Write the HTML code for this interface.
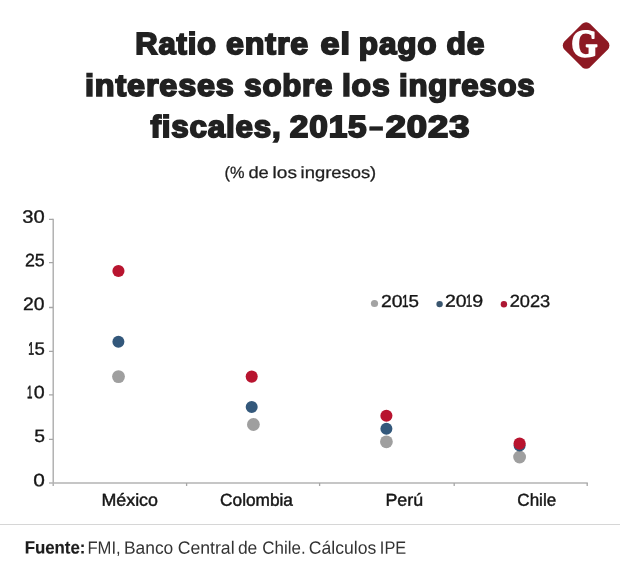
<!DOCTYPE html>
<html lang="es">
<head>
<meta charset="utf-8">
<title>Ratio entre el pago de intereses sobre los ingresos fiscales, 2015-2023</title>
<style>
html,body{margin:0;padding:0;background:#fff;}
body{width:620px;height:579px;position:relative;overflow:hidden;font-family:"Liberation Sans",sans-serif;}
h1,p,footer,div{margin:0;padding:0;font-size:inherit;font-weight:normal;}
.t{position:absolute;left:0;top:0;white-space:nowrap;line-height:1;transform-origin:0 0;display:block;}
svg{position:absolute;left:0;top:0;}
</style>
</head>
<body>
<svg width="620" height="579" viewBox="0 0 620 579">
<g fill="none" stroke="#a6a6a6" stroke-width="1.3">
<path d="M53.2 218.8V486"/>
<path d="M49 483H587.8" stroke="#b3b3b3"/>
<path d="M49 219.4H53M49 262.7H53M49 307.5H53M49 351.3H53M49 394.8H53M49 439.3H53"/>
<path d="M186.6 483V486M319.6 483V486M454.2 483V486M587.2 483V486"/>
</g>
<g>
<circle cx="118.5" cy="376.6" r="6.4" fill="#9f9f9f"/>
<circle cx="118.4" cy="341.8" r="6" fill="#33587b"/>
<circle cx="118.45" cy="270.95" r="6.05" fill="#b8142f"/>
<circle cx="253.4" cy="424.5" r="6.4" fill="#9f9f9f"/>
<circle cx="251.7" cy="407" r="6" fill="#33587b"/>
<circle cx="251.7" cy="376.6" r="6.05" fill="#b8142f"/>
<circle cx="386.4" cy="441.8" r="6.4" fill="#9f9f9f"/>
<circle cx="386.4" cy="428.7" r="6" fill="#33587b"/>
<circle cx="386.4" cy="415.7" r="6.05" fill="#b8142f"/>
<circle cx="519.6" cy="457" r="6.4" fill="#9f9f9f"/>
<circle cx="519.6" cy="445.6" r="6" fill="#33587b"/>
<circle cx="519.6" cy="443.6" r="6.05" fill="#b8142f"/>
<circle cx="374.5" cy="303.5" r="3.6" fill="#a3a3a3"/>
<circle cx="439.6" cy="304.1" r="3.2" fill="#3a566f"/>
<circle cx="503.9" cy="304.3" r="3.2" fill="#ad1733"/>
</g>
<path d="M0 524.45H620" stroke="#d6d6d6" stroke-width="1.1" fill="none"/>
</svg>
<svg width="620" height="579" viewBox="0 0 620 579">
<rect x="568" y="27.4" width="36.2" height="36.2" rx="5.5" fill="#8d1923" transform="rotate(45 586.1 45.5)"/>
<text transform="translate(571.3 56.6) scale(0.87 1) rotate(0.03)" font-family="Liberation Serif, serif" font-weight="bold" font-size="39.0" fill="#fff" stroke="#fff" stroke-width="1.6" stroke-linejoin="round">G</text>
</svg>
<h1>
<span class="t" style="font-size:30.6px;transform:translate(135.29px,28.02px) scaleX(1.0138) rotate(0.03deg);color:#212121;font-weight:bold;-webkit-text-stroke:1.8px #212121;letter-spacing:0.8px;">Ratio</span>
<span class="t" style="font-size:30.6px;transform:translate(226.11px,28.02px) scaleX(1.0516) rotate(0.03deg);color:#212121;font-weight:bold;-webkit-text-stroke:1.8px #212121;letter-spacing:0.8px;">entre</span>
<span class="t" style="font-size:30.6px;transform:translate(320.6px,28.02px) scaleX(1.1139) rotate(0.03deg);color:#212121;font-weight:bold;-webkit-text-stroke:1.8px #212121;letter-spacing:0.8px;">el</span>
<span class="t" style="font-size:30.6px;transform:translate(358.85px,28.02px) scaleX(1.0306) rotate(0.03deg);color:#212121;font-weight:bold;-webkit-text-stroke:1.8px #212121;letter-spacing:0.8px;">pago</span>
<span class="t" style="font-size:30.6px;transform:translate(446.61px,28.02px) scaleX(1.0374) rotate(0.03deg);color:#212121;font-weight:bold;-webkit-text-stroke:1.8px #212121;letter-spacing:0.8px;">de</span>
<span class="t" style="font-size:30.6px;transform:translate(85.05px,69.66px) scaleX(1.0570) rotate(0.03deg);color:#212121;font-weight:bold;-webkit-text-stroke:1.8px #212121;letter-spacing:0.8px;">intereses</span>
<span class="t" style="font-size:30.6px;transform:translate(244.32px,69.66px) scaleX(1.0180) rotate(0.03deg);color:#212121;font-weight:bold;-webkit-text-stroke:1.8px #212121;letter-spacing:0.8px;">sobre</span>
<span class="t" style="font-size:30.6px;transform:translate(341.93px,69.66px) scaleX(1.0410) rotate(0.03deg);color:#212121;font-weight:bold;-webkit-text-stroke:1.8px #212121;letter-spacing:0.8px;">los</span>
<span class="t" style="font-size:30.6px;transform:translate(399.06px,69.66px) scaleX(1.0187) rotate(0.03deg);color:#212121;font-weight:bold;-webkit-text-stroke:1.8px #212121;letter-spacing:0.8px;">ingresos</span>
<span class="t" style="font-size:30.6px;transform:translate(150.39px,111.04px) scaleX(1.0240) rotate(0.03deg);color:#212121;font-weight:bold;-webkit-text-stroke:1.8px #212121;letter-spacing:0.8px;">fiscales,</span>
<span class="t" style="font-size:30.6px;transform:translate(289.86px,111.04px) scaleX(1.0899) rotate(0.03deg);color:#212121;font-weight:bold;-webkit-text-stroke:1.8px #212121;letter-spacing:0.8px;">2015</span><span class="t" style="font-size:30.6px;transform:translate(367.81px,110.4px) scaleX(1.6733) rotate(0.03deg);color:#212121;font-weight:bold;-webkit-text-stroke:0.3px #212121;letter-spacing:0.8px;">-</span><span class="t" style="font-size:30.6px;transform:translate(385.65px,111.04px) scaleX(1.1882) rotate(0.03deg);color:#212121;font-weight:bold;-webkit-text-stroke:1.8px #212121;letter-spacing:0.8px;">2023</span>
</h1>
<p>
<span class="t" style="font-size:16.3px;transform:translate(224.56px,163.93px) scaleX(1.0034) rotate(0.03deg);color:#1f1f1f;-webkit-text-stroke:0.27px #1f1f1f;">(%</span>
<span class="t" style="font-size:16.3px;transform:translate(248.44px,163.93px) scaleX(1.1232) rotate(0.03deg);color:#1f1f1f;-webkit-text-stroke:0.27px #1f1f1f;">de</span>
<span class="t" style="font-size:16.3px;transform:translate(272.62px,163.93px) scaleX(1.1680) rotate(0.03deg);color:#1f1f1f;-webkit-text-stroke:0.27px #1f1f1f;">los</span>
<span class="t" style="font-size:16.3px;transform:translate(300.59px,163.93px) scaleX(1.1300) rotate(0.03deg);color:#1f1f1f;-webkit-text-stroke:0.27px #1f1f1f;">ingresos)</span>
</p>
<div class="ylabels">
<span class="t" style="font-size:17.9px;transform:translate(22.21px,208.76px) scaleX(1.1283) rotate(0.03deg);color:#161616;-webkit-text-stroke:0.35px #161616;">30</span>
<span class="t" style="font-size:17.9px;transform:translate(24.92px,252.36px) scaleX(0.9981) rotate(0.03deg);color:#161616;-webkit-text-stroke:0.35px #161616;">25</span>
<span class="t" style="font-size:17.9px;transform:translate(23.12px,296.08px) scaleX(1.0797) rotate(0.03deg);color:#161616;-webkit-text-stroke:0.35px #161616;">20</span>
<span class="t" style="font-size:17.9px;transform:translate(28.19px,340.76px) scaleX(0.5847) rotate(0.03deg);color:#161616;-webkit-text-stroke:0.65px #161616;">1</span><span class="t" style="font-size:17.9px;transform:translate(34.58px,340.76px) scaleX(1.0385) rotate(0.03deg);color:#161616;-webkit-text-stroke:0.35px #161616;">5</span>
<span class="t" style="font-size:17.9px;transform:translate(27.1px,384.27px) scaleX(0.5434) rotate(0.03deg);color:#161616;-webkit-text-stroke:0.65px #161616;">1</span><span class="t" style="font-size:17.9px;transform:translate(33.77px,384.27px) scaleX(1.0999) rotate(0.03deg);color:#161616;-webkit-text-stroke:0.35px #161616;">0</span>
<span class="t" style="font-size:17.9px;transform:translate(34.15px,427.99px) scaleX(1.0779) rotate(0.03deg);color:#161616;-webkit-text-stroke:0.35px #161616;">5</span>
<span class="t" style="font-size:17.9px;transform:translate(33.32px,472.25px) scaleX(1.1660) rotate(0.03deg);color:#161616;-webkit-text-stroke:0.35px #161616;">0</span>
</div>
<div class="xlabels">
<span class="t" style="font-size:17.3px;transform:translate(101.44px,491.74px) scaleX(1.0321) rotate(0.03deg);color:#161616;-webkit-text-stroke:0.45px #161616;">México</span>
<span class="t" style="font-size:17.3px;transform:translate(220.09px,491.66px) scaleX(0.9981) rotate(0.03deg);color:#161616;-webkit-text-stroke:0.45px #161616;">Colombia</span>
<span class="t" style="font-size:17.3px;transform:translate(385.44px,491.8px) scaleX(1.0310) rotate(0.03deg);color:#161616;-webkit-text-stroke:0.45px #161616;">Perú</span>
<span class="t" style="font-size:17.3px;transform:translate(517.38px,491.76px) scaleX(0.9845) rotate(0.03deg);color:#161616;-webkit-text-stroke:0.45px #161616;">Chile</span>
</div>
<div class="legend">
<span class="t" style="font-size:17.3px;transform:translate(380.91px,292.91px) scaleX(1.1235) rotate(0.03deg);color:#161616;-webkit-text-stroke:0.35px #161616;">20</span><span class="t" style="font-size:17.3px;transform:translate(402.04px,292.91px) scaleX(0.6760) rotate(0.03deg);color:#161616;-webkit-text-stroke:0.65px #161616;">1</span><span class="t" style="font-size:17.3px;transform:translate(408.41px,292.91px) scaleX(1.0857) rotate(0.03deg);color:#161616;-webkit-text-stroke:0.35px #161616;">5</span>
<span class="t" style="font-size:17.3px;transform:translate(444.89px,292.84px) scaleX(1.1251) rotate(0.03deg);color:#161616;-webkit-text-stroke:0.35px #161616;">20</span><span class="t" style="font-size:17.3px;transform:translate(466.05px,292.84px) scaleX(0.6391) rotate(0.03deg);color:#161616;-webkit-text-stroke:0.65px #161616;">1</span><span class="t" style="font-size:17.3px;transform:translate(472.35px,292.84px) scaleX(1.1355) rotate(0.03deg);color:#161616;-webkit-text-stroke:0.35px #161616;">9</span>
<span class="t" style="font-size:17.3px;transform:translate(509.68px,292.87px) scaleX(1.0553) rotate(0.03deg);color:#161616;-webkit-text-stroke:0.35px #161616;">2023</span>
</div>
<footer>
<span class="t" style="font-size:17.8px;transform:translate(24.64px,539.58px) scaleX(0.9470) rotate(0.03deg);color:#1d1d1d;font-weight:bold;-webkit-text-stroke:0.15px #1d1d1d;">Fuente:</span>
<span class="t" style="font-size:17.8px;transform:translate(87.45px,539.82px) scaleX(0.9351) rotate(0.03deg);color:#333333;">FMI,</span>
<span class="t" style="font-size:17.8px;transform:translate(123.96px,539.82px) scaleX(0.9783) rotate(0.03deg);color:#333333;">Banco</span>
<span class="t" style="font-size:17.8px;transform:translate(177.72px,539.82px) scaleX(0.9923) rotate(0.03deg);color:#333333;">Central</span>
<span class="t" style="font-size:17.8px;transform:translate(237.9px,539.82px) scaleX(0.9828) rotate(0.03deg);color:#333333;">de</span>
<span class="t" style="font-size:17.8px;transform:translate(262.34px,539.82px) scaleX(0.9529) rotate(0.03deg);color:#333333;">Chile.</span>
<span class="t" style="font-size:17.8px;transform:translate(308.85px,539.82px) scaleX(0.9878) rotate(0.03deg);color:#333333;">Cálculos</span>
<span class="t" style="font-size:17.8px;transform:translate(379.85px,539.82px) scaleX(0.9201) rotate(0.03deg);color:#333333;">IPE</span>
</footer>
</body>
</html>
